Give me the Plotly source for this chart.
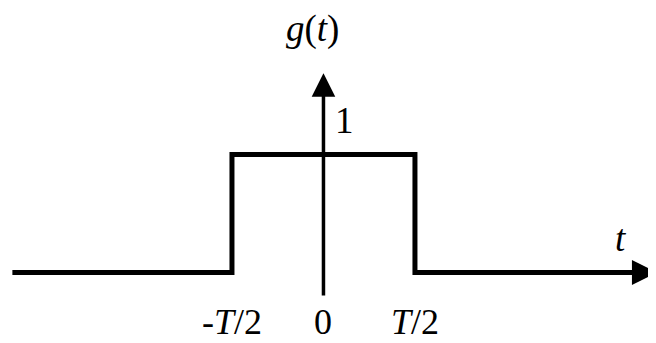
import plotly.graph_objects as go

# Data (T = 2, so T/2 = 1)
pulse_x = [-3.40, -1, -1, 1, 1, 3.40]
pulse_y = [0, 0, 1, 1, 0, 0]
t_axis_end = 3.645
g_axis_bottom = -0.208
g_axis_top = 1.69
tick_positions = [-1, 0, 1]
tick_labels = ["-<i>T</i>/2", "0", "<i>T</i>/2"]

fig = go.Figure()
fig.add_trace(go.Scatter(x=pulse_x, y=pulse_y, mode="lines",
                         line=dict(color="black", width=5), hoverinfo="skip"))

font = dict(family="Liberation Serif, Times New Roman, serif", size=37, color="black")
tick_font = dict(family="Liberation Serif, Times New Roman, serif", size=36, color="black")

# horizontal axis arrow
fig.add_annotation(x=t_axis_end, y=0, ax=3.2, ay=0, xref="x", yref="y", axref="x", ayref="y",
                   showarrow=True, arrowhead=2, arrowsize=1.0, arrowwidth=5, arrowcolor="black",
                   text="", standoff=0, startstandoff=0)
# vertical axis arrow
fig.add_annotation(x=0, y=g_axis_top, ax=0, ay=g_axis_bottom, xref="x", yref="y", axref="x", ayref="y",
                   showarrow=True, arrowhead=2, arrowsize=1.35, arrowwidth=3.5, arrowcolor="black",
                   text="", standoff=0, startstandoff=0)

for xp, lab in zip(tick_positions, tick_labels):
    fig.add_annotation(x=xp, y=-0.42, xref="x", yref="y", text=lab, showarrow=False, font=tick_font)

fig.add_annotation(x=-0.12, y=2.06, xref="x", yref="y", text="<i>g</i>(<i>t</i>)", showarrow=False, font=font)
fig.add_annotation(x=0.23, y=1.29, xref="x", yref="y", text="1", showarrow=False, font=font)
fig.add_annotation(x=3.25, y=0.29, xref="x", yref="y", text="<i>t</i>", showarrow=False, font=font)

fig.update_xaxes(range=[-3.448, 3.722], visible=False, fixedrange=True)
fig.update_yaxes(range=[-0.665, 2.242], visible=False, fixedrange=True)
fig.update_layout(width=656, height=343, margin=dict(l=0, r=0, t=0, b=0),
                  paper_bgcolor="white", plot_bgcolor="white", showlegend=False)

fig.write_html("out.html")
